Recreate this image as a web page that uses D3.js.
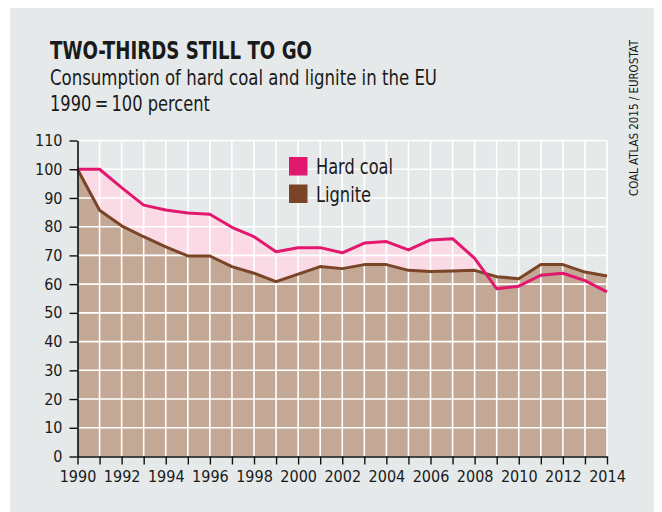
<!DOCTYPE html>
<html>
<head>
<meta charset="utf-8">
<script src="https://cdn.jsdelivr.net/npm/d3@7"></script>
<style>
  html, body { margin: 0; padding: 0; background: #ffffff; }
  svg { display: block; }
  text { font-family: "Liberation Sans Narrow", "DejaVu Sans Condensed", "Roboto", sans-serif; fill: #1a1a1a; }
</style>
</head>
<body>
<svg id="chart" width="662" height="512"></svg>
<script>
// Consumption of hard coal and lignite in the EU, index 1990 = 100
const years = d3.range(1990, 2015);
const hardCoal = [100, 100, 93.6, 87.5, 85.8, 84.8, 84.3, 79.8, 76.5, 71.3, 72.7, 72.7, 70.9, 74.3, 74.8, 71.9, 75.4, 75.8, 69.0, 58.4, 59.3, 63.1, 63.8, 61.2, 57.3];
const lignite  = [100, 85.7, 80.3, 76.5, 73.0, 69.8, 69.8, 66.1, 63.8, 60.9, 63.5, 66.1, 65.4, 66.8, 66.8, 64.8, 64.4, 64.6, 64.8, 62.6, 61.9, 66.8, 66.8, 64.2, 62.8];
const yTicks = d3.range(0, 111, 10);
const xTicks = d3.range(1990, 2015, 2);
const seriesNames = ["Hard coal", "Lignite"];

const colors = {
  panel: "#e6e9ea",
  hardLine: "#e2186f",
  hardFill: "#fadbe5",
  ligLine: "#7a4426",
  ligFill: "#c2a895",
  grid: "#ffffff"
};

const svg = d3.select("#chart");

// grey panel
svg.append("rect").attr("x", 10).attr("y", 8).attr("width", 644).attr("height", 504)
  .attr("fill", colors.panel);

// headings
svg.append("text").attr("x", 50).attr("y", 59)
  .attr("font-size", 25).attr("font-weight", "bold")
  .attr("textLength", 262).attr("lengthAdjust", "spacingAndGlyphs")
  .text("TWO-THIRDS STILL TO GO");
svg.append("text").attr("x", 50).attr("y", 85)
  .attr("font-size", 21)
  .attr("textLength", 387).attr("lengthAdjust", "spacingAndGlyphs")
  .text("Consumption of hard coal and lignite in the EU");
svg.append("text").attr("x", 50).attr("y", 111)
  .attr("font-size", 21)
  .attr("textLength", 160).attr("lengthAdjust", "spacingAndGlyphs")
  .text("1990\u2009=\u2009100 percent");

// source, vertical
svg.append("text")
  .attr("transform", "translate(638,196) rotate(-90)")
  .attr("font-size", 12)
  .attr("textLength", 156).attr("lengthAdjust", "spacingAndGlyphs")
  .text("COAL ATLAS 2015 / EUROSTAT");

// scales
const x = d3.scaleLinear().domain([1990, 2014]).range([77.5, 607]);
const y = d3.scaleLinear().domain([0, 110]).range([456.5, 140.5]);

const plot = svg.append("g");

// filled areas
const area = vals => d3.area()
  .x((d, i) => x(years[i]))
  .y0(y(0))
  .y1(d => y(d))(vals);
plot.append("path").attr("d", area(hardCoal)).attr("fill", colors.hardFill);
plot.append("path").attr("d", area(lignite)).attr("fill", colors.ligFill);

// white grid over the fills
const grid = plot.append("g").attr("stroke", colors.grid).attr("stroke-width", 1.6);
grid.selectAll("line.h").data(yTicks.slice(1)).join("line")
  .attr("x1", x(1990)).attr("x2", x(2014))
  .attr("y1", d => y(d)).attr("y2", d => y(d));
grid.selectAll("line.v").data(years.slice(1)).join("line")
  .attr("x1", d => x(d)).attr("x2", d => x(d))
  .attr("y1", y(0)).attr("y2", y(110));

// lines
const line = vals => d3.line()
  .x((d, i) => x(years[i]))
  .y(d => y(d))(vals);
plot.append("path").attr("d", line(lignite)).attr("fill", "none")
  .attr("stroke", colors.ligLine).attr("stroke-width", 3).attr("stroke-linejoin", "round");
plot.append("path").attr("d", line(hardCoal)).attr("fill", "none")
  .attr("stroke", colors.hardLine).attr("stroke-width", 3).attr("stroke-linejoin", "round");

// axes
const yAxis = svg.append("g").attr("transform", `translate(${x(1990)},0)`)
  .call(d3.axisLeft(y).tickValues(yTicks).tickSize(8).tickSizeOuter(0).tickPadding(7));
const xAxis = svg.append("g").attr("transform", `translate(0,${y(0)})`)
  .call(d3.axisBottom(x).tickValues(years).tickSize(8).tickSizeOuter(0).tickPadding(6)
    .tickFormat(d => xTicks.includes(d) ? String(d) : ""));
[yAxis, xAxis].forEach(g => {
  g.selectAll("path.domain").attr("stroke", "#111").attr("stroke-width", 1.6);
  g.selectAll(".tick line").attr("stroke", "#111").attr("stroke-width", 1.4);
  g.selectAll(".tick text").attr("font-size", 16)
    .attr("font-family", "\"Liberation Sans Narrow\", \"DejaVu Sans Condensed\", sans-serif")
    .attr("fill", "#1a1a1a");
});

// legend
const legend = svg.append("g").attr("transform", "translate(289,157)");
const lItems = legend.selectAll("g").data(seriesNames).join("g")
  .attr("transform", (d, i) => `translate(0,${i * 27.5})`);
lItems.append("rect").attr("width", 18.5).attr("height", 18.5)
  .attr("fill", (d, i) => i === 0 ? colors.hardLine : colors.ligLine);
lItems.append("text").attr("x", 27).attr("y", 17).attr("font-size", 21)
  .attr("textLength", (d, i) => i === 0 ? 77 : 55).attr("lengthAdjust", "spacingAndGlyphs")
  .text(d => d);
</script>
</body>
</html>
